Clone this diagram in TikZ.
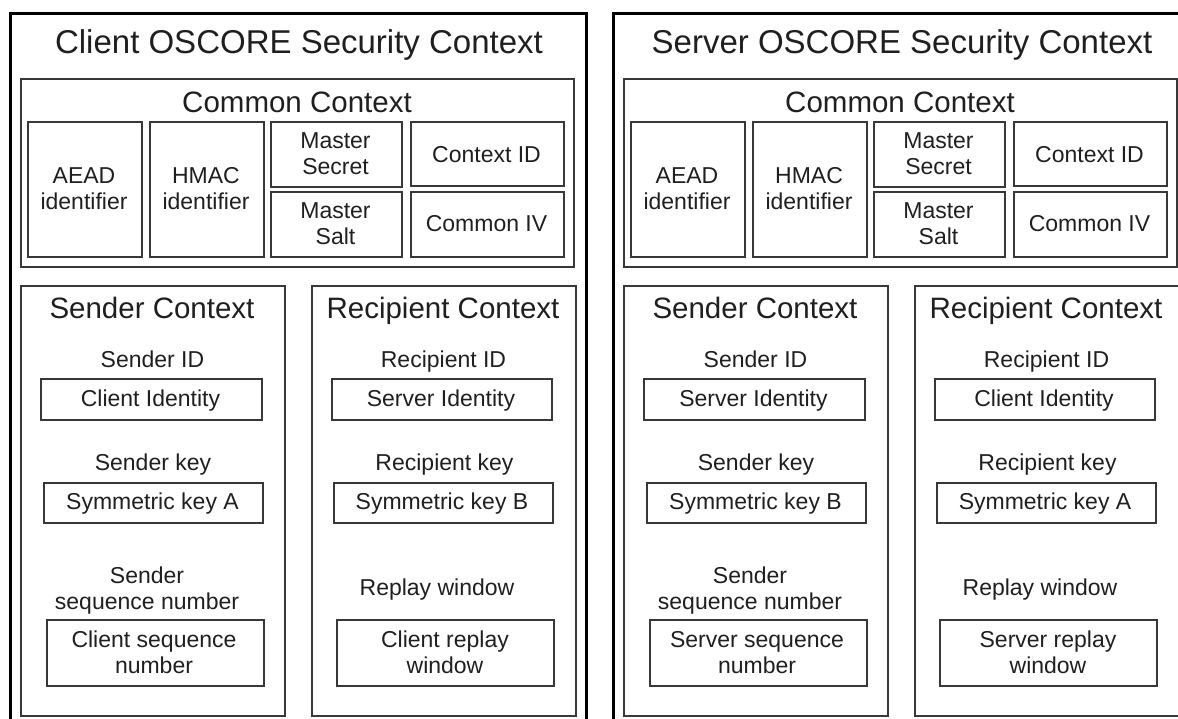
\documentclass[tikz,border=0pt]{standalone}
\usepackage{fontspec}
\setmainfont{Liberation Sans}
\newcommand\twoln[2]{\vtop{\halign{\hfil##\hfil\cr#1\cr#2\cr}}}
\newcommand\bx[5]{\node[box, anchor=north west, minimum width=#4pt-#2pt, minimum height=#5pt-#3pt] (#1) at (#2,#3) {};}
\tikzset{
  outer/.style={draw=black, line width=3pt, inner sep=0pt},
  box/.style={draw=black!78, line width=1.6pt, inner sep=0pt},
  ttl/.style={font=\fontsize{33}{38}\selectfont, anchor=base, text=black!88, inner sep=0pt},
  head/.style={font=\fontsize{29.5}{34}\selectfont, anchor=base, text=black!88, inner sep=0pt},
  lbl/.style={font=\fontsize{23}{26}\selectfont, anchor=base, text=black!88, inner sep=0pt},
}
\begin{document}
\begin{tikzpicture}[x=1pt,y=-1pt]
\useasboundingbox (0,0) rectangle (1178,718);
\clip (0,0) rectangle (1178,718);
\foreach \dx/\side/\other/\sk/\rk in {0/Client/Server/A/B, 603/Server/Client/B/A}{
\begin{scope}[xshift=\dx pt]
  \node[outer, anchor=north west, minimum width=576pt, minimum height=730pt] (outer-\side) at (9,12) {};
  \node[ttl] (title-\side) at (299,53) {\side{} OSCORE Security Context};
  % common context
  \bx{common-\side}{20}{78}{573}{266}
  \node[head] (commonlbl-\side) at (297,112) {Common Context};
  \bx{aead-\side}{27}{121}{141}{256}
  \node[lbl] (aeadlbl-\side) at (84,183) {\twoln{AEAD}{identifier}};
  \bx{hmac-\side}{149}{121}{263}{256}
  \node[lbl] (hmaclbl-\side) at (206,183) {\twoln{HMAC}{identifier}};
  \bx{secret-\side}{270}{121}{401}{186}
  \node[lbl] (secretlbl-\side) at (335.5,148) {\twoln{Master}{Secret}};
  \bx{salt-\side}{270}{191}{401}{256}
  \node[lbl] (saltlbl-\side) at (335.5,218) {\twoln{Master}{Salt}};
  \bx{ctxid-\side}{410}{121}{563}{185}
  \node[lbl] (ctxidlbl-\side) at (486.5,162) {Context ID};
  \bx{iv-\side}{410}{191}{563}{256}
  \node[lbl] (ivlbl-\side) at (486.5,231) {Common IV};
  % sender context
  \bx{sender-\side}{20}{285}{284}{715}
  \node[head] (senderlbl-\side) at (152,318) {Sender Context};
  \node[lbl] (sidlbl-\side) at (152.5,367) {Sender ID};
  \bx{sid-\side}{40}{378}{261}{419}
  \node[lbl] (sidval-\side) at (150.5,406) {\side{} Identity};
  \node[lbl] (skeylbl-\side) at (153,470) {Sender key};
  \bx{skey-\side}{43}{482}{262}{522}
  \node[lbl] (skeyval-\side) at (152.5,509) {Symmetric key \sk};
  \node[lbl] (sseqlbl-\side) at (147,583) {\twoln{Sender}{sequence number}};
  \bx{sseq-\side}{46}{619}{263}{685}
  \node[lbl] (sseqval-\side) at (154,647) {\twoln{\side{} sequence}{number}};
  % recipient context
  \bx{rcp-\side}{311}{285}{575}{715}
  \node[head] (rcplbl-\side) at (443,318) {Recipient Context};
  \node[lbl] (ridlbl-\side) at (443.5,367) {Recipient ID};
  \bx{rid-\side}{331}{378}{551}{419}
  \node[lbl] (ridval-\side) at (441,406) {\other{} Identity};
  \node[lbl] (rkeylbl-\side) at (444.5,470) {Recipient key};
  \bx{rkey-\side}{333}{482}{552}{522}
  \node[lbl] (rkeyval-\side) at (442,509) {Symmetric key \rk};
  \node[lbl] (replbl-\side) at (437,595) {Replay window};
  \bx{rep-\side}{336}{619}{553}{685}
  \node[lbl] (repval-\side) at (445,647) {\twoln{\side{} replay}{window}};
\end{scope}
}
\end{tikzpicture}
\end{document}
